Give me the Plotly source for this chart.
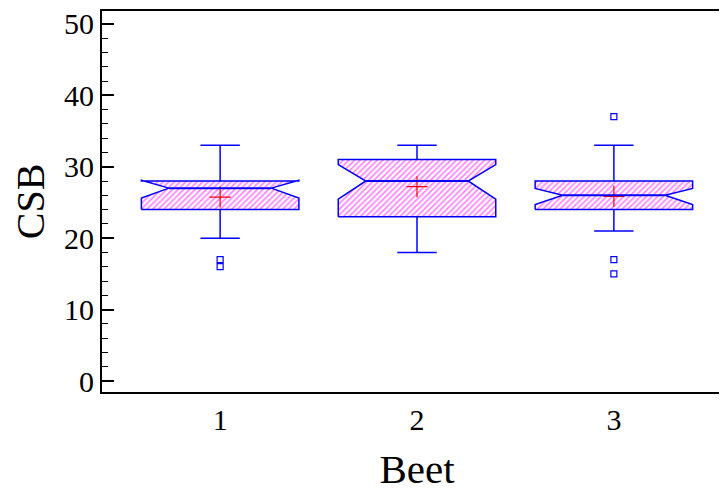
import plotly.graph_objects as go

# ---- data ----
categories = [1, 2, 3]
tick_labels = ["1", "2", "3"]
q1 = [24, 23, 24]
median = [27, 28, 26]
q3 = [28, 31, 28]
lower_whisker = [20, 18, 21]
upper_whisker = [33, 33, 33]
notch_lo = [25.6, 25.45, 24.7]
notch_hi = [28.1, 30.3, 26.95]
means = [25.75, 27.2, 25.85]
outlier_x = [1, 1, 3, 3, 3]
outlier_y = [17, 16, 37, 17, 15]

# ---- styling ----
BLUE = "#0000FF"
MAGENTA = "#FF00FF"
RED = "#FF0000"
FONT = "Liberation Serif"
half_w = 0.40      # box half width (data units)
inner_w = 0.26     # half width at the notch (median)
cap_w = 0.10       # whisker cap half width

fig = go.Figure()

# notched boxes with hatched fill
for i, p in enumerate(categories):
    xs = [p - half_w, p - half_w, p - inner_w, p - half_w, p - half_w,
          p + half_w, p + half_w, p + inner_w, p + half_w, p + half_w, p - half_w]
    ys = [q1[i], notch_lo[i], median[i], notch_hi[i], q3[i],
          q3[i], notch_hi[i], median[i], notch_lo[i], q1[i], q1[i]]
    fig.add_trace(go.Scatter(
        x=xs, y=ys, mode="lines", fill="toself",
        fillcolor="white",
        fillpattern=dict(shape="/", fgcolor=MAGENTA, bgcolor="white",
                         size=4, solidity=0.4),
        line=dict(color=BLUE, width=1.5),
        hoverinfo="skip", showlegend=False))

# mean markers (drawn below the median lines)
fig.add_trace(go.Scatter(
    x=categories, y=means, mode="markers",
    marker=dict(symbol="cross-thin", size=15,
                line=dict(color=RED, width=1.2), color=RED),
    showlegend=False))

for i, p in enumerate(categories):
    # median line
    fig.add_trace(go.Scatter(
        x=[p - inner_w, p + inner_w], y=[median[i], median[i]],
        mode="lines", line=dict(color=BLUE, width=2),
        hoverinfo="skip", showlegend=False))
    # whiskers and caps
    fig.add_trace(go.Scatter(
        x=[p, p, None, p, p, None,
           p - cap_w, p + cap_w, None, p - cap_w, p + cap_w],
        y=[q3[i], upper_whisker[i], None, q1[i], lower_whisker[i], None,
           upper_whisker[i], upper_whisker[i], None,
           lower_whisker[i], lower_whisker[i]],
        mode="lines", line=dict(color=BLUE, width=1.5),
        hoverinfo="skip", showlegend=False))

# outliers
fig.add_trace(go.Scatter(
    x=outlier_x, y=outlier_y, mode="markers",
    marker=dict(symbol="square-open", size=6, color=BLUE,
                line=dict(color=BLUE, width=1.2)),
    showlegend=False))

fig.update_layout(
    width=727, height=492,
    margin=dict(l=94, r=3, t=3, b=108),
    paper_bgcolor="white", plot_bgcolor="white",
    font=dict(family=FONT, color="black"),
    xaxis=dict(
        range=[0.4, 3.6], tickmode="array",
        tickvals=categories, ticktext=tick_labels,
        ticks="", showgrid=False, zeroline=False, automargin=False,
        showline=True, linecolor="black", linewidth=2, mirror=True,
        tickfont=dict(size=30, family=FONT),
        title=dict(text="Beet", font=dict(size=41, family=FONT), standoff=19),
    ),
    yaxis=dict(
        range=[-1.54, 51.8], tickmode="linear", tick0=0, dtick=10,
        ticks="inside", ticklen=12, tickwidth=1.5, tickcolor="black",
        minor=dict(dtick=2, ticks="inside", ticklen=6, tickwidth=1.2,
                   tickcolor="black", showgrid=False),
        showgrid=False, zeroline=False, automargin=False,
        showline=True, linecolor="black", linewidth=2, mirror="ticks",
        tickfont=dict(size=30, family=FONT),
        ticklabelstandoff=0, ticklabeloverflow="allow",
        title=dict(text="CSB", font=dict(size=40, family=FONT), standoff=12),
    ),
)

fig.write_html("out.html")
